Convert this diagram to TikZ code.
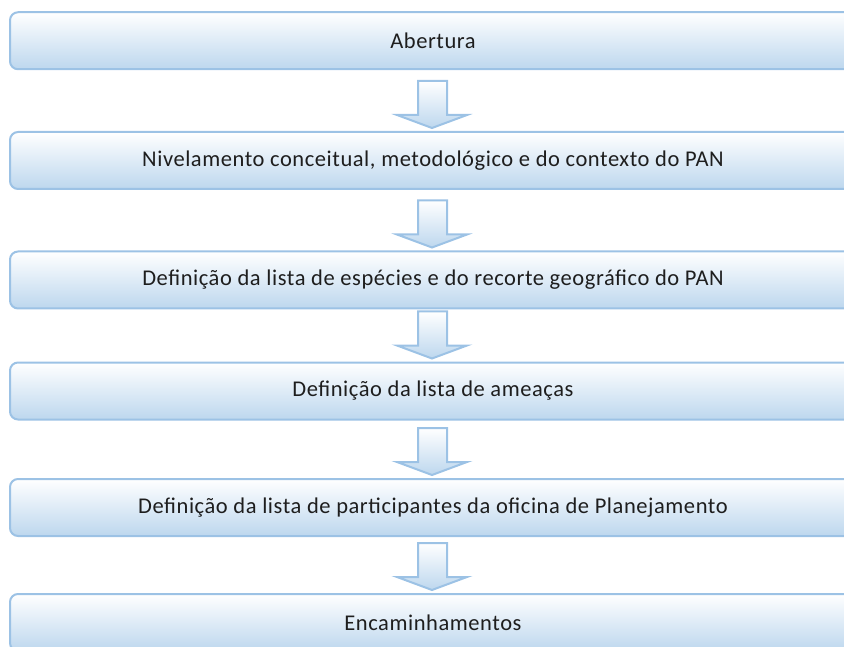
\documentclass[tikz,border=0pt]{standalone}
\usepackage{fontspec}
\setmainfont{Carlito}[LetterSpace=2.5]
\usepackage{tikz}
\definecolor{boxline}{RGB}{156,194,229}
\definecolor{boxfill}{RGB}{189,215,238}
\definecolor{stagetext}{RGB}{30,30,30}
\tikzset{
  stage/.style={rounded corners=8pt, draw=boxline, line width=2pt,
    top color=white, bottom color=boxfill, text=stagetext,
    minimum width=846pt, minimum height=57pt, inner sep=0pt,
    font=\fontsize{22.5}{26}\selectfont},
  flowarrow/.style={draw=boxline, line width=2pt, miter limit=10,
    top color=white, bottom color=boxfill}
}
% block arrow that ends just above the box #1
\newcommand{\stagearrow}[1]{%
  \begin{scope}[shift={(#1.north)}]
    \draw[flowarrow] (-15,-50) -- (14,-50) -- (14,-16) -- (34,-16) -- (-1,-3)
      -- (-36,-16) -- (-15,-16) -- cycle;
  \end{scope}}

\begin{document}
\begin{tikzpicture}[x=1pt,y=-1pt]
\clip (0,0) rectangle (844,647);
\useasboundingbox (0,0) rectangle (844,647);
%stages
\node[stage] (open)    at (433, 40.75) {Abertura};
\node[stage] (level)   at (433,160.5)  {Nivelamento conceitual, metodológico e do contexto do PAN};
\node[stage] (species) at (433,280)    {Definição da lista de espécies e do recorte geográfico do PAN};
\node[stage] (threats) at (433,391)    {Definição da lista de ameaças};
\node[stage] (people)  at (433,507.5)  {Definição da lista de participantes da oficina de Planejamento};
\node[stage] (next)    at (433,622.5)  {Encaminhamentos};
%arrows
\stagearrow{level}
\stagearrow{species}
\stagearrow{threats}
\stagearrow{people}
\stagearrow{next}
\end{tikzpicture}
\end{document}
